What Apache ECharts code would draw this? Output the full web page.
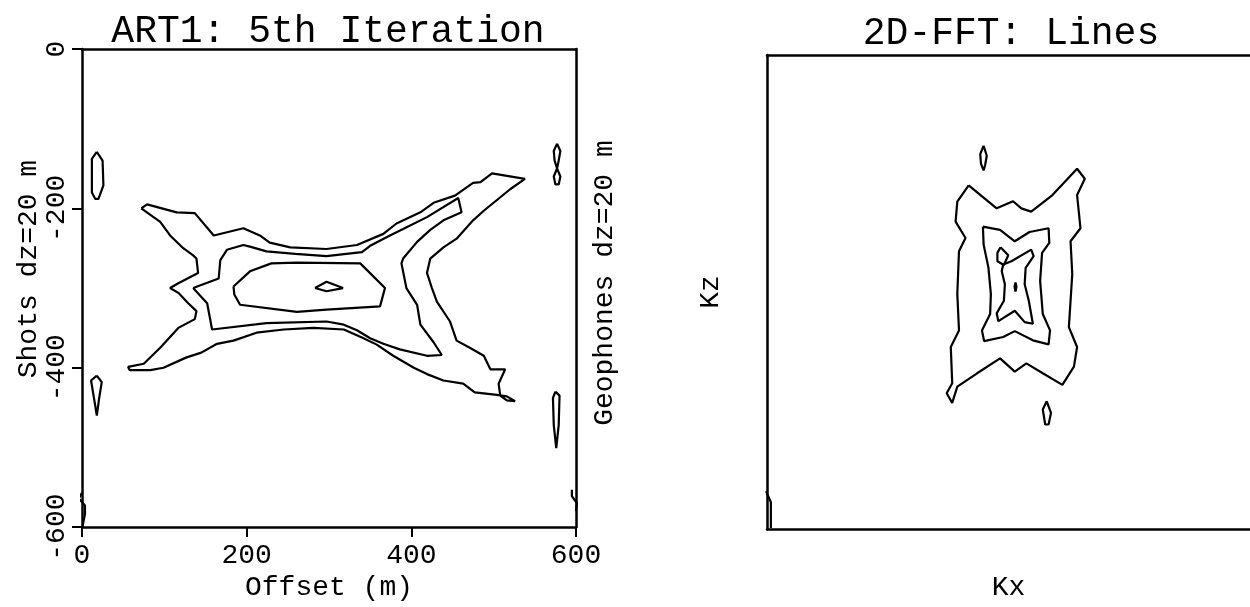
<!DOCTYPE html>
<html>
<head>
<meta charset="utf-8">
<title>ART1 5th Iteration / 2D-FFT Lines</title>
<script src="https://cdn.jsdelivr.net/npm/echarts@6/dist/echarts.min.js"></script>
<style>
  html, body { margin: 0; padding: 0; background: #fff; }
  #chart { width: 1250px; height: 607px; }
</style>
</head>
<body>
<div id="chart"></div>
<script>
// left panel ticks (offset in m, depth in m)
const offsetTicks = [0, 200, 400, 600];
const depthTicks = [-600, -400, -200, 0];
// right panel has no ticks, Kx / Kz in % of Nyquist
const kRange = [-100, 100];

// ART1 contour lines, [offset, depth]
const artOuter = [[72,-200],[79,-195],[115,-205],[137,-206],[160,-234],[196,-225],[216,-234],[228,-243],[253,-249],[297,-251],[334,-246],[366,-232],[382,-219],[411,-205],[427,-193],[453,-184],[475,-168],[484,-167],[498,-156],[538,-163],[520,-176],[488,-203],[475,-215],[455,-238],[439,-249],[423,-263],[419,-281],[425,-300],[431,-317],[447,-342],[455,-366],[471,-375],[488,-385],[496,-402],[514,-402],[506,-420],[508,-435],[516,-441],[526,-442],[516,-436],[504,-434],[477,-431],[463,-420],[439,-416],[419,-408],[403,-400],[378,-385],[358,-371],[340,-362],[318,-352],[281,-350],[245,-352],[212,-356],[184,-366],[164,-370],[145,-381],[127,-387],[99,-400],[83,-403],[58,-403],[56,-399],[75,-395],[95,-375],[117,-350],[137,-339],[139,-329],[129,-319],[117,-306],[107,-300],[117,-294],[141,-281],[139,-263],[135,-259],[123,-250],[107,-234],[95,-217],[72,-200]];
const artSecond = [[135,-300],[166,-288],[168,-265],[176,-252],[196,-246],[204,-248],[224,-254],[259,-257],[297,-260],[340,-255],[350,-247],[374,-234],[390,-226],[419,-211],[457,-187],[461,-205],[439,-215],[423,-227],[407,-242],[390,-263],[388,-269],[394,-300],[407,-321],[411,-346],[427,-368],[437,-384],[419,-385],[386,-377],[366,-370],[350,-363],[334,-353],[318,-346],[297,-342],[224,-344],[158,-352],[152,-319],[135,-300]];
const artThird = [[184,-298],[204,-279],[230,-269],[261,-268],[338,-269],[368,-300],[362,-323],[297,-327],[261,-330],[192,-321],[185,-308],[184,-298]];
const artCore = [[283,-300],[297,-292],[317,-300],[297,-304],[283,-300]];
const artBlobUL = [[18,-129],[25,-140],[26,-171],[20,-188],[16,-188],[12,-180],[12,-138],[18,-129]];
const artBlobLL = [[18,-410],[24,-418],[21,-437],[18,-460],[15,-441],[11,-416],[18,-410]];
const artBlobUR = [[577,-119],[581,-128],[579,-140],[577,-150],[581,-160],[579,-170],[575,-170],[573,-160],[577,-150],[574,-140],[573,-128],[577,-119]];
const artBlobLR = [[575,-430],[580,-435],[579,-472],[576,-501],[573,-472],[572,-438],[575,-430]];
const artEdgeLeft = [[0,-557],[-4,-564],[3.6,-573],[3.6,-584],[0.8,-598]];
const artEdgeRight = [[595,-553],[595,-561],[601,-570],[600,-580]];

// 2D-FFT contour lines, [Kx, Kz]
const fftOuter = [[-16.5,45.0],[-4.9,35.3],[1.9,38.3],[5.3,35.3],[9.4,33.9],[18.2,40.9],[28.4,52.0],[31.6,47.8],[28.4,40.9],[29.8,26.9],[25.7,21.4],[26.4,7.5],[25.0,-14.8],[28.4,-23.2],[27.1,-31.5],[22.3,-39.2],[14.2,-34.3],[7.4,-30.1],[2.6,-33.6],[-3.5,-28.0],[-13.0,-34.3],[-21.2,-39.9],[-23.3,-46.8],[-25.6,-42.7],[-23.3,-38.5],[-23.9,-23.2],[-20.5,-16.2],[-21.2,-0.9],[-20.5,17.2],[-17.8,22.8],[-21.9,29.7],[-21.2,38.1],[-16.5,45.0]];
const fftMiddle = [[-10.6,27.6],[-3.5,26.2],[2.6,21.4],[8.7,25.3],[16.6,26.9],[16.9,20.7],[13.9,16.5],[13.1,4.7],[14.2,-9.3],[17.2,-16.2],[16.6,-22.1],[10.1,-20.4],[2.6,-16.5],[-2.2,-19.0],[-10.1,-20.7],[-11.0,-16.2],[-7.6,-9.3],[-7.3,-0.9],[-8.3,10.2],[-10.3,20.0],[-10.6,27.6]];
const fftInner = [[-2.2,11.6],[1.2,13.0],[9.4,17.9],[10.4,15.1],[7.1,10.2],[6.7,3.3],[8.4,-3.7],[10.1,-13.4],[6.7,-12.7],[2.6,-7.9],[-4.2,-12.3],[-4.9,-9.0],[-1.9,-3.7],[-1.5,3.3],[-2.8,8.8],[-2.2,11.6]];
const fftLoop = [[-3.3,18.9],[-0.1,15.5],[-1.9,11.4],[-4.6,13.0],[-4.6,16.5],[-3.3,18.9]];
const fftCore = [[2.9,4.0],[3.3,2.2],[2.9,0.2],[2.5,2.2],[2.9,4.0]];
const fftBlobTop = [[-10.3,61.7],[-9.0,57.5],[-9.7,53.4],[-10.3,51.3],[-11.4,54.1],[-11.7,58.2],[-10.3,61.7]];
const fftBlobBottom = [[15.8,-46.1],[17.6,-51.0],[16.6,-55.9],[15.2,-55.9],[14.2,-49.6],[15.8,-46.1]];
const fftEdge = [[-100.4,-84],[-98.4,-88.7],[-98.4,-99.6]];

const FONT = "Liberation Mono";
const INK = "#000";

const chart = echarts.init(document.getElementById("chart"));

function contour(data, panel, clip) {
  return {
    type: "line",
    data: data,
    xAxisIndex: panel === 0 ? 0 : 2,
    yAxisIndex: panel === 0 ? 0 : 2,
    showSymbol: false,
    symbol: "none",
    clip: clip !== false,
    silent: true,
    lineStyle: { color: INK, width: 2.2 },
  };
}

const frameLine = { show: true, onZero: false, lineStyle: { color: INK, width: 2.5 } };
const nameStyle = { color: INK, fontFamily: FONT, fontSize: 28 };

const option = {
  animation: false,
  backgroundColor: "#fff",
  title: [
    {
      text: "ART1: 5th Iteration",
      left: 323,
      top: 8,
      textAlign: "center",
      textStyle: { color: INK, fontFamily: FONT, fontSize: 38, fontWeight: "normal" },
    },
    {
      text: "2D-FFT: Lines",
      left: 1006,
      top: 10,
      textAlign: "center",
      textStyle: { color: INK, fontFamily: FONT, fontSize: 38, fontWeight: "normal" },
    },
  ],
  grid: [
    { left: 82, top: 49, width: 494, height: 482 },
    { left: 767, top: 55, width: 490, height: 479 },
  ],
  xAxis: [
    {
      gridIndex: 0,
      type: "value",
      position: "bottom",
      min: offsetTicks[0],
      max: offsetTicks[offsetTicks.length - 1],
      interval: offsetTicks[1] - offsetTicks[0],
      name: "Offset (m)",
      nameLocation: "middle",
      nameGap: 32,
      nameTextStyle: nameStyle,
      axisLine: frameLine,
      axisTick: { show: true, length: 10, lineStyle: { color: INK, width: 2 } },
      axisLabel: { color: INK, fontFamily: FONT, fontSize: 28, margin: 14 },
      splitLine: { show: false },
    },
    {
      gridIndex: 0,
      type: "value",
      position: "top",
      min: offsetTicks[0],
      max: offsetTicks[offsetTicks.length - 1],
      axisLine: frameLine,
      axisTick: { show: false },
      axisLabel: { show: false },
      splitLine: { show: false },
    },
    {
      gridIndex: 1,
      type: "value",
      position: "bottom",
      min: kRange[0],
      max: kRange[1],
      name: "Kx",
      nameLocation: "middle",
      nameGap: 45,
      nameTextStyle: nameStyle,
      axisLine: frameLine,
      axisTick: { show: false },
      axisLabel: { show: false },
      splitLine: { show: false },
    },
    {
      gridIndex: 1,
      type: "value",
      position: "top",
      min: kRange[0],
      max: kRange[1],
      axisLine: frameLine,
      axisTick: { show: false },
      axisLabel: { show: false },
      splitLine: { show: false },
    },
  ],
  yAxis: [
    {
      gridIndex: 0,
      type: "value",
      position: "left",
      min: depthTicks[0],
      max: depthTicks[depthTicks.length - 1],
      interval: depthTicks[1] - depthTicks[0],
      name: "Shots dz=20 m",
      nameLocation: "middle",
      nameGap: 38,
      nameTextStyle: Object.assign({}, nameStyle, { padding: [0, 0, 0, 38] }),
      axisLine: frameLine,
      axisTick: { show: true, length: 10, lineStyle: { color: INK, width: 2 } },
      axisLabel: { color: INK, fontFamily: FONT, fontSize: 28, rotate: 90, margin: 11 },
      splitLine: { show: false },
    },
    {
      gridIndex: 0,
      type: "value",
      position: "right",
      min: depthTicks[0],
      max: depthTicks[depthTicks.length - 1],
      name: "Geophones dz=20 m",
      nameLocation: "middle",
      nameRotate: 90,
      nameGap: 15,
      nameTextStyle: Object.assign({}, nameStyle, { padding: [0, 0, 0, 10] }),
      axisLine: frameLine,
      axisTick: { show: false },
      axisLabel: { show: false },
      splitLine: { show: false },
    },
    {
      gridIndex: 1,
      type: "value",
      position: "left",
      min: kRange[0],
      max: kRange[1],
      name: "Kz",
      nameLocation: "middle",
      nameGap: 42,
      nameTextStyle: nameStyle,
      axisLine: frameLine,
      axisTick: { show: false },
      axisLabel: { show: false },
      splitLine: { show: false },
    },
  ],
  series: [
    contour(artOuter, 0),
    contour(artSecond, 0),
    contour(artThird, 0),
    contour(artCore, 0),
    contour(artBlobUL, 0),
    contour(artBlobLL, 0),
    contour(artBlobUR, 0),
    contour(artBlobLR, 0),
    contour(artEdgeLeft, 0, false),
    contour(artEdgeRight, 0, false),
    contour(fftOuter, 1),
    contour(fftMiddle, 1),
    contour(fftInner, 1),
    contour(fftLoop, 1),
    contour(fftCore, 1),
    contour(fftBlobTop, 1),
    contour(fftBlobBottom, 1),
    contour(fftEdge, 1, false),
  ],
};

chart.setOption(option);
</script>
</body>
</html>
